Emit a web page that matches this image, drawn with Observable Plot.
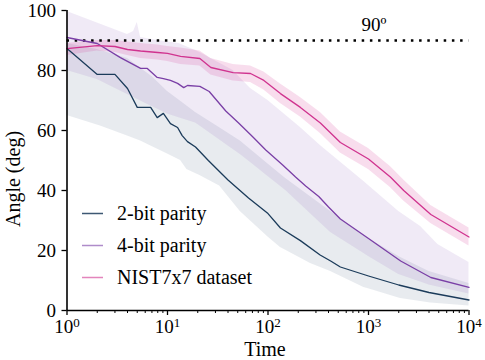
<!DOCTYPE html>
<html><head><meta charset="utf-8">
<script src="https://cdn.jsdelivr.net/npm/d3@7"></script>
<script src="https://cdn.jsdelivr.net/npm/@observablehq/plot@0.6"></script>
<style>body{margin:0;background:#fff} svg{display:block} svg text{font-family:"Liberation Serif","Times New Roman",serif !important}</style>
</head><body><div id="chart"></div>
<script>
// ---- series names & colours
const seriesNames = ["2-bit parity", "4-bit parity", "NIST7x7 dataset"];
const lineColors = ["#1b3b5a", "#7a3fa6", "#d0338f"];

// ---- 2-bit parity (mean line)
const t2 = [1,2,3,4,5,6.8,7.9,9.1,10.7,12.6,14,15.8,19,25.5,40,64,100,133,210,330,420,525,1000,2000,4000,10000];
const v2 = [87.3,78.7,78.7,74,67.7,67.7,64.3,65.7,62.3,61,58.3,56.3,54.5,50,43.5,37.5,32.3,27.5,23.3,18.5,16.5,14.5,11.5,8.5,6,3.5];
// 2-bit band
const t2lo = [1,2.15,5.4,13.5,15.6,21,33,53,100,133,265,420,900,2090,4170,10000];
const lo2  = [65,61.5,56.5,50,47,45,41.5,33,24.5,21,15.7,13,7.7,4,2.5,1.5];
const t2hi = [1,2,4,7,10,19,53,150,420,1000,2000,4000,10000];
const hi2  = [89,87,84,78,73,66,56.5,44,33,24,18,13,9];

// ---- 4-bit parity (mean line)
const t4 = [1,2,3.4,5.4,6.3,7.9,9.1,10.7,12.6,14.5,15.8,21,26,38,51,70,95,140,188,237,320,400,525,1000,2090,4170,10000];
const v4 = [91,89,84.3,80.7,80.7,77.7,77.3,76.7,75.7,74.3,75,74.7,73,66.5,62.5,58,53.5,48.5,44.5,41.5,38,34.5,30.5,24,16.5,11,7.7];
// 4-bit band
const t4hi = [1,4,4.6,5,5.4,8,13,21,45,67,100,210,332,900,2000,3300,4900,10000];
const hi4  = [99.7,92,93,96,91,90,89,86,80,74,70,61,55,43,33,28,22,16];
const t4lo = [1,2,4,7,10,19,53,150,420,1000,2000,4000,10000];
const lo4  = [80,77,72,68,65.5,62.5,52,40,26,18,12,8.5,5.5];

// ---- NIST7x7 dataset
const tN  = [1,2,3,4,5.4,8,10,13.5,21,27,45,67,91,133,210,332,525,1000,1650,2240,4170,10000];
const vN  = [87.3,88.3,88,87,86.5,86,85.7,84.7,84,81,79.3,79,76.7,72.3,67.7,62.5,56,50.5,44.5,40,32,24.5];
const hiN = [89,90,90,89.5,89,88.5,88,87.5,86.5,84,82,81.5,79.5,75.5,71,66,59.5,54,48,43.5,35,27.5];
const loN = [85,86.5,86,85,84,83.5,83,82,81.5,78.5,76.5,76,73.5,69,64.5,59,52.5,47,41,36.5,29,21.5];

// ---- axes
const xMajor = [1,10,100,1000,10000];
const xMinor = [];
for (const p of [1,10,100,1000]) for (let k = 2; k <= 9; k++) xMinor.push(k*p);
const yTicks = [0,20,40,60,80,100];
const refAngle = 90;
const refLabel = "90º";
const xLabel = "Time", yLabel = "Angle (deg)";

const rows = (t, v) => t.map((d, i) => ({t: d, v: v[i]}));
const band = (t, lo, hi) => t.map((d, i) => ({t: d, lo: lo[i], hi: hi[i]}));
// bands whose two edges were read at different times: join both edge lists
const bandMerged = (tl, lo, th, hi) => {
  const ts = Array.from(new Set([...tl, ...th])).sort((a,b)=>a-b);
  const sl = d3.scaleLog().domain(tl).range(lo), sh = d3.scaleLog().domain(th).range(hi);
  return ts.map(t => ({t, lo: sl(t), hi: sh(t)}));
};

const FONT = "Liberation Serif, Times New Roman, serif";
const plot = Plot.plot({
  width: 485, height: 360,
  marginLeft: 66.5, marginRight: 16.5, marginTop: 10, marginBottom: 50,
  style: {fontFamily: FONT, fontSize: "19px", color: "black", background: "white", overflow: "visible"},
  x: {type: "log", domain: [1, 10000]},
  y: {domain: [0, 100]},
  marks: [
    Plot.areaY(bandMerged(t2lo, lo2, t2hi, hi2), {x: "t", y1: "lo", y2: "hi", fill: "#2b4a6b", fillOpacity: 0.11}),
    Plot.areaY(bandMerged(t4lo, lo4, t4hi, hi4), {x: "t", y1: "lo", y2: "hi", fill: "#8a5cb8", fillOpacity: 0.13}),
    Plot.areaY(band(tN, loN, hiN), {x: "t", y1: "lo", y2: "hi", fill: "#d9409a", fillOpacity: 0.18}),
    Plot.ruleY([refAngle], {stroke: "black", strokeWidth: 2.5, strokeDasharray: "2.5,5.7"}),
    Plot.lineY(rows(t2, v2), {x: "t", y: "v", stroke: lineColors[0], strokeWidth: 1.3}),
    Plot.lineY(rows(t4, v4), {x: "t", y: "v", stroke: lineColors[1], strokeWidth: 1.3}),
    Plot.lineY(rows(tN, vN), {x: "t", y: "v", stroke: lineColors[2], strokeWidth: 1.3}),
    Plot.ruleX([1], {stroke: "black", strokeWidth: 1.6}),
    Plot.ruleY([0], {stroke: "black", strokeWidth: 1.6}),
    Plot.axisX({ticks: xMajor, tickSize: 5, tickPadding: 4, tickFormat: d => String(Math.round(Math.log10(d))), label: null, strokeWidth: 1.3}),
    Plot.axisX({ticks: xMinor, tickSize: 3, tickFormat: () => "", label: null, strokeWidth: 1}),
    Plot.axisY({ticks: yTicks, tickSize: 5, tickPadding: 6, label: null, strokeWidth: 1.3}),
    Plot.text([refLabel], {frameAnchor: "top-right", dx: -95, dy: 14, textAnchor: "middle", lineAnchor: "middle", fontSize: 19, fill: "black"})
  ]
});
document.getElementById("chart").appendChild(plot);

const svg = d3.select(plot);
// superscript exponents on x tick labels
svg.selectAll('g[aria-label="x-axis tick label"] text').each(function() {
  const e = this.textContent;
  if (!e) return;
  this.textContent = "10";
  d3.select(this).append("tspan").attr("dy", -6).attr("font-size", 13).text(e);
});
// axis titles
svg.append("text").attr("x", 265).attr("y", 356).attr("text-anchor", "middle")
  .attr("font-size", 20).attr("fill", "black").text(xLabel);
svg.append("text").attr("transform", "translate(20,179) rotate(-90)").attr("text-anchor", "middle")
  .attr("font-size", 20).attr("fill", "black").text(yLabel);
// legend
const legendY = [213.5, 245.5, 277.5];
const lg = svg.append("g").attr("text-anchor", "start");
seriesNames.forEach((name, i) => {
  lg.append("line").attr("x1", 82).attr("x2", 103).attr("y1", legendY[i]).attr("y2", legendY[i])
    .attr("stroke", lineColors[i]).attr("stroke-opacity", i === 0 ? 0.85 : 0.6).attr("stroke-width", 1.5);
  lg.append("text").attr("x", 117).attr("y", legendY[i] + 6.5).attr("font-size", 20)
    .attr("text-anchor", "start").attr("fill", "black").text(name);
});
</script>
</body></html>
